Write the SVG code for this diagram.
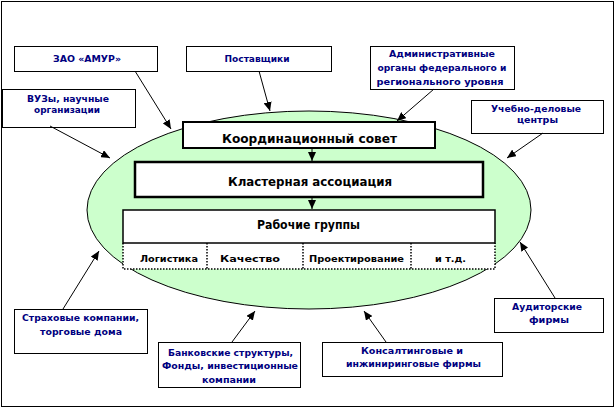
<svg xmlns="http://www.w3.org/2000/svg" width="616" height="410" viewBox="0 0 616 410">
<style>
.box{fill:#ffffff;stroke:#000000;stroke-width:1}
.ot{font-family:"DejaVu Sans","Liberation Sans",sans-serif;font-weight:bold;font-size:9px;fill:#000080;text-anchor:middle}
.it{font-family:"DejaVu Sans","Liberation Sans",sans-serif;font-weight:bold;fill:#000000;text-anchor:middle}
.con{stroke:#000000;stroke-width:1;fill:none;marker-end:url(#ah)}
.dot{stroke:#000000;stroke-width:1.5;fill:none;stroke-dasharray:1.5 1.5}
</style>
<defs>
<marker id="ah" markerUnits="userSpaceOnUse" markerWidth="10" markerHeight="8" refX="9" refY="4" orient="auto">
<path d="M0,0 L9,4 L0,8 z" fill="#000000"/>
</marker>
</defs>
<rect x="1.5" y="1.5" width="612" height="405" fill="#ffffff" stroke="#000000" stroke-width="1"/>
<g id="cluster-area">
<ellipse cx="309" cy="210" rx="222" ry="99" fill="#ccffcc" stroke="#000000" stroke-width="1"/>
</g>
<g id="node-amur">
<rect class="box" x="14.5" y="46.5" width="143" height="25"/>
<text class="ot" x="87" y="62" textLength="68" lengthAdjust="spacingAndGlyphs">ЗАО «АМУР»</text>
</g>
<g id="node-suppliers">
<rect class="box" x="186.5" y="46.5" width="145" height="25"/>
<text class="ot" x="257" y="62" textLength="65" lengthAdjust="spacingAndGlyphs">Поставщики</text>
</g>
<g id="node-admin">
<rect class="box" x="370.5" y="46.5" width="144" height="43"/>
<text class="ot" x="442" y="57" textLength="106" lengthAdjust="spacingAndGlyphs">Административные</text>
<text class="ot" x="442" y="71" textLength="129" lengthAdjust="spacingAndGlyphs">органы федерального и</text>
<text class="ot" x="440" y="85" textLength="127" lengthAdjust="spacingAndGlyphs">регионального уровня</text>
</g>
<g id="node-vuz">
<rect class="box" x="2.5" y="89.5" width="133" height="38"/>
<text class="ot" x="68" y="101.5" textLength="82" lengthAdjust="spacingAndGlyphs">ВУЗы, научные</text>
<text class="ot" x="67" y="112.5" textLength="66" lengthAdjust="spacingAndGlyphs">организации</text>
</g>
<g id="node-training">
<rect class="box" x="471.5" y="100.5" width="132" height="33"/>
<text class="ot" x="536" y="112" textLength="90" lengthAdjust="spacingAndGlyphs">Учебно-деловые</text>
<text class="ot" x="537.5" y="123" textLength="41" lengthAdjust="spacingAndGlyphs">центры</text>
</g>
<g id="node-insurance">
<rect class="box" x="14.5" y="309.5" width="133" height="44"/>
<text class="ot" x="80.5" y="320.5" textLength="117" lengthAdjust="spacingAndGlyphs">Страховые компании,</text>
<text class="ot" x="81" y="335" textLength="82" lengthAdjust="spacingAndGlyphs">торговые дома</text>
</g>
<g id="node-banks">
<rect class="box" x="158.5" y="342.5" width="142" height="45"/>
<text class="ot" x="230.5" y="355.5" textLength="125" lengthAdjust="spacingAndGlyphs">Банковские структуры,</text>
<text class="ot" x="230" y="369" textLength="136" lengthAdjust="spacingAndGlyphs">Фонды, инвестиционные</text>
<text class="ot" x="229" y="382.5" textLength="54" lengthAdjust="spacingAndGlyphs">компании</text>
</g>
<g id="node-consulting">
<rect class="box" x="322.5" y="342.5" width="180" height="34"/>
<text class="ot" x="412" y="354" textLength="102" lengthAdjust="spacingAndGlyphs">Консалтинговые  и</text>
<text class="ot" x="413.5" y="367" textLength="135" lengthAdjust="spacingAndGlyphs">инжиниринговые фирмы</text>
</g>
<g id="node-audit">
<rect class="box" x="494.5" y="298.5" width="109" height="34"/>
<text class="ot" x="547" y="309.5" textLength="70" lengthAdjust="spacingAndGlyphs">Аудиторские</text>
<text class="ot" x="549" y="323" textLength="40" lengthAdjust="spacingAndGlyphs">фирмы</text>
</g>
<g id="node-council">
<rect x="183" y="122" width="252" height="26" fill="#ffffff" stroke="#000000" stroke-width="2"/>
<text class="it" x="309.5" y="142.5" font-size="12" textLength="175" lengthAdjust="spacingAndGlyphs">Координационный совет</text>
</g>
<g id="node-association">
<rect x="135" y="162" width="348" height="35" fill="#ffffff" stroke="#000000" stroke-width="2.5"/>
<text class="it" x="310" y="186" font-size="13" textLength="164" lengthAdjust="spacingAndGlyphs">Кластерная ассоциация</text>
</g>
<g id="node-groups">
<rect x="123" y="243" width="372" height="26" fill="#ffffff" stroke="none"/>
<path class="dot" d="M123,243 V269 H495 V243 M207,243 V269 M303,243 V269 M411,243 V269"/>
<rect x="123" y="210" width="372" height="33" fill="#ffffff" stroke="#000000" stroke-width="1.5"/>
<text class="it" x="308.5" y="229" font-size="11.5" textLength="103" lengthAdjust="spacingAndGlyphs">Рабочие группы</text>
<text class="it" x="169" y="262" font-size="9" textLength="58" lengthAdjust="spacingAndGlyphs">Логистика</text>
<text class="it" x="250" y="262" font-size="9" textLength="60" lengthAdjust="spacingAndGlyphs">Качество</text>
<text class="it" x="356.5" y="262" font-size="9" textLength="95" lengthAdjust="spacingAndGlyphs">Проектирование</text>
<text class="it" x="450.5" y="262" font-size="9" textLength="31" lengthAdjust="spacingAndGlyphs">и т.д.</text>
</g>
<g id="connectors">
<line class="con" x1="135" y1="71" x2="171" y2="129"/>
<line class="con" x1="259" y1="71" x2="270" y2="111"/>
<line class="con" x1="434" y1="89" x2="397" y2="121"/>
<line class="con" x1="50" y1="126" x2="110" y2="158"/>
<line class="con" x1="543" y1="133" x2="507" y2="158"/>
<line class="con" x1="63" y1="309" x2="99" y2="251"/>
<line class="con" x1="232" y1="342" x2="255" y2="311"/>
<line class="con" x1="386" y1="342" x2="364" y2="311"/>
<line class="con" x1="555" y1="298" x2="520" y2="242"/>
<line class="con" x1="312" y1="148" x2="312" y2="161"/>
<line class="con" x1="312" y1="197" x2="312" y2="209"/>
</g>
</svg>
